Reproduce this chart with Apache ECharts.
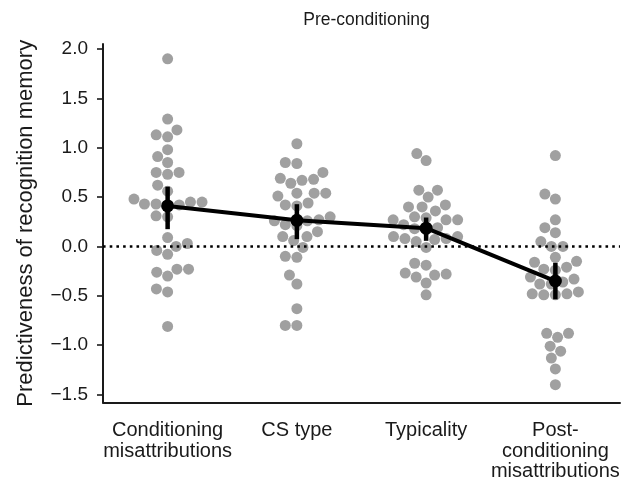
<!DOCTYPE html>
<html><head><meta charset="utf-8">
<script src="https://cdn.jsdelivr.net/npm/echarts@6/dist/echarts.min.js"></script>
<style>html,body{margin:0;padding:0;background:#fff}#c{width:626px;height:482px}</style>
</head><body><div id="c"></div>
<script>
const categories = ['Conditioning\nmisattributions', 'CS type', 'Typicality', 'Post-\nconditioning\nmisattributions'];
const condValues = [1.90, 1.29, 1.18, 1.13, 1.11, 0.98, 0.91, 0.85, 0.75, 0.73, 0.75, 0.62, 0.56, 0.45, 0.43, 0.42, 0.42, 0.43, 0.45, 0.48, 0.31, 0.30, 0.09, 0.00, 0.03, -0.04, -0.08, -0.26, -0.30, -0.23, -0.23, -0.43, -0.46, -0.81];
const csValues = [1.04, 0.84, 0.85, 0.75, 0.67, 0.64, 0.68, 0.69, 0.54, 0.51, 0.54, 0.54, 0.41, 0.42, 0.44, 0.30, 0.27, 0.26, 0.22, 0.21, 0.26, 0.15, 0.10, 0.06, 0.10, -0.01, -0.10, -0.11, -0.29, -0.38, -0.63, -0.80, -0.80];
const typValues = [0.94, 0.87, 0.57, 0.57, 0.50, 0.42, 0.40, 0.36, 0.40, 0.30, 0.27, 0.27, 0.29, 0.27, 0.22, 0.19, 0.18, 0.17, 0.10, 0.10, 0.08, 0.07, 0.08, 0.05, -0.01, -0.17, -0.19, -0.27, -0.31, -0.29, -0.28, -0.37, -0.49];
const postValues = [0.92, 0.53, 0.48, 0.27, 0.19, 0.14, 0.05, 0.00, 0.00, -0.11, -0.15, -0.16, -0.21, -0.23, -0.24, -0.31, -0.36, -0.38, -0.33, -0.38, -0.46, -0.49, -0.49, -0.48, -0.48, -0.88, -0.88, -0.92, -1.01, -1.06, -1.13, -1.24, -1.40];
const means = [0.41, 0.265, 0.185, -0.35];
const ciLow = [0.175, 0.074, 0.057, -0.535];
const ciHigh = [0.605, 0.428, 0.293, -0.165];
const yTicks = [-1.5, -1.0, -0.5, 0.0, 0.5, 1.0, 1.5, 2.0];

const FONT = 'Liberation Sans, Arial, sans-serif';
const W = 626, H = 482;
const GRID = { left: 103, right: 6, top: 44, bottom: 79 };
const Y_MIN = -1.58, Y_MAX = 2.05, X_MIN = -0.5, X_MAX = 3.5;
const pxPerY = (H - GRID.top - GRID.bottom) / (Y_MAX - Y_MIN);
const pxPerX = (W - GRID.left - GRID.right) / (X_MAX - X_MIN);
const DOT = 11, SEP = 11.6;

// beeswarm layout (seaborn-like): place points in value order, nearest free spot to center
function beeswarm(values, center) {
  const order = values.map((v, i) => i).sort((a, b) => values[a] - values[b]);
  const placed = [];
  const out = new Array(values.length);
  for (const i of order) {
    const y = values[i] * pxPerY;
    const nb = placed.filter(p => Math.abs(p.y - y) < SEP);
    const cands = [0];
    nb.forEach(p => {
      const dx = Math.sqrt(SEP * SEP - (p.y - y) ** 2);
      cands.push(p.x + dx, p.x - dx);
    });
    cands.sort((a, b) => (Math.abs(a) - Math.abs(b)) || (a - b));
    let chosen = 0;
    for (const c of cands) {
      if (nb.every(p => (p.x - c) ** 2 + (p.y - y) ** 2 >= SEP * SEP - 1e-6)) { chosen = c; break; }
    }
    placed.push({ x: chosen, y });
    out[i] = [center + chosen / pxPerX, values[i]];
  }
  return out;
}

const groups = [condValues, csValues, typValues, postValues];
const swarmData = [];
groups.forEach((g, k) => beeswarm(g, k).forEach(d => swarmData.push(d)));

const fmt = v => (v < 0 ? '\u2212' : '') + Math.abs(v).toFixed(1);

const chart = echarts.init(document.getElementById('c'), null, { renderer: 'canvas' });
chart.setOption({
  animation: false,
  backgroundColor: '#fff',
  textStyle: { fontFamily: FONT },
  title: {
    text: 'Pre-conditioning',
    left: GRID.left + (W - GRID.left - GRID.right) / 2,
    textAlign: 'center',
    top: 6,
    textStyle: { fontFamily: FONT, fontSize: 17.5, fontWeight: 'normal', color: '#1a1a1a' }
  },
  grid: { left: GRID.left, right: GRID.right, top: GRID.top, bottom: GRID.bottom, containLabel: false },
  xAxis: [
    {
      type: 'category', data: categories, boundaryGap: true,
      axisLine: { onZero: false, lineStyle: { color: '#1a1a1a', width: 2 } },
      axisTick: { alignWithLabel: true, length: 6, lineStyle: { color: '#1a1a1a', width: 1.6 } },
      axisLabel: { interval: 0, fontFamily: FONT, fontSize: 20, color: '#1a1a1a', lineHeight: 20.5, margin: 18 },
      splitLine: { show: false }
    },
    { type: 'value', min: X_MIN, max: X_MAX, show: false }
  ],
  yAxis: {
    type: 'value', min: Y_MIN, max: Y_MAX,
    name: 'Predictiveness of recognition memory', nameLocation: 'middle', nameGap: 66,
    nameTextStyle: { fontFamily: FONT, fontSize: 22, color: '#1a1a1a' },
    axisLine: { show: true, onZero: false, lineStyle: { color: '#1a1a1a', width: 2 } },
    axisTick: { show: true, length: 6, customValues: yTicks, lineStyle: { color: '#1a1a1a', width: 1.6 } },
    axisLabel: { customValues: yTicks, formatter: fmt, fontFamily: FONT, fontSize: 19, color: '#1a1a1a', margin: 15 },
    splitLine: { show: false }
  },
  series: [
    {
      type: 'scatter', xAxisIndex: 1, data: swarmData, symbolSize: DOT,
      itemStyle: { color: '#a0a0a0', opacity: 1 }, z: 2
    },
    {
      type: 'line', xAxisIndex: 1, data: [], z: 3,
      markLine: {
        silent: true, symbol: 'none', label: { show: false },
        lineStyle: { color: '#000', width: 2.6, type: [2.6, 4.1] },
        data: [{ yAxis: 0 }]
      }
    },
    {
      type: 'custom', xAxisIndex: 0, z: 4,
      data: means.map((m, i) => [i, ciLow[i], ciHigh[i]]),
      renderItem: (params, api) => {
        const a = api.coord([api.value(0), api.value(1)]);
        const b = api.coord([api.value(0), api.value(2)]);
        return { type: 'line', shape: { x1: a[0], y1: a[1], x2: b[0], y2: b[1] }, style: { stroke: '#000', lineWidth: 4.5 } };
      }
    },
    {
      type: 'line', xAxisIndex: 0, data: means, z: 5,
      symbol: 'circle', symbolSize: 13, showSymbol: true,
      itemStyle: { color: '#000' }, lineStyle: { color: '#000', width: 4 }
    }
  ]
});
</script>
</body></html>
